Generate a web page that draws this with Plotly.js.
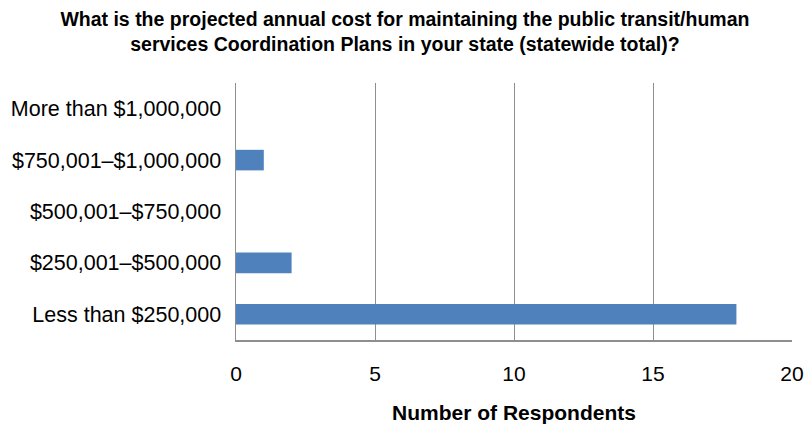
<!DOCTYPE html>
<html>
<head>
<meta charset="utf-8">
<script src="https://cdn.plot.ly/plotly-3.0.1.min.js"></script>
<style>
  html, body { margin: 0; padding: 0; background: #fff; }
  #chart { width: 805px; height: 425px; }
</style>
</head>
<body>
<div id="chart"></div>
<script>
// Cost brackets, bottom to top as drawn on the category axis
const categories = [
  "Less than $250,000",
  "$250,001–$500,000",
  "$500,001–$750,000",
  "$750,001–$1,000,000",
  "More than $1,000,000"
];
const respondents = [18, 2, 0, 1, 0];
const xTicks = [0, 5, 10, 15, 20];

const titleText = "What is the projected annual cost for maintaining the public transit/human<br>services Coordination Plans in your state (statewide total)?";
const xTitleText = "Number of Respondents";

const FONT = "Liberation Sans, Arial, Helvetica, sans-serif";

Plotly.newPlot("chart", [{
  type: "bar",
  orientation: "h",
  x: respondents,
  y: categories,
  marker: { color: "#4f81bd" },
  hoverinfo: "x+y"
}], {
  width: 805,
  height: 425,
  margin: { l: 236, r: 13, t: 83, b: 85 },
  paper_bgcolor: "#fff",
  plot_bgcolor: "#fff",
  bargap: 0.6,
  showlegend: false,
  font: { family: FONT, color: "#000", size: 21 },
  title: {
    text: titleText,
    font: { family: FONT, size: 19.5, color: "#000", weight: "bold" },
    x: 0.503, xanchor: "center",
    y: 0.94, yanchor: "top"
  },
  xaxis: {
    range: [0, 20],
    tickvals: xTicks,
    ticktext: xTicks.map(String),
    showgrid: true,
    gridcolor: "#8e8e8e",
    gridwidth: 1,
    zeroline: false,
    showline: true,
    linecolor: "#8e8e8e",
    linewidth: 1.5,
    mirror: false,
    ticks: "",
    ticklabelstandoff: 14,
    tickfont: { family: FONT, size: 21, color: "#000" },
    title: {
      text: xTitleText,
      font: { family: FONT, size: 21, color: "#000", weight: "bold" },
      standoff: 21
    },
    fixedrange: true
  },
  yaxis: {
    type: "category",
    showgrid: false,
    zeroline: false,
    showline: true,
    linecolor: "#8e8e8e",
    linewidth: 1.5,
    ticks: "",
    ticklabelstandoff: 9,
    tickfont: { family: FONT, size: 21.5, color: "#000" },
    fixedrange: true
  }
}, { displayModeBar: false, staticPlot: true });
</script>
</body>
</html>
